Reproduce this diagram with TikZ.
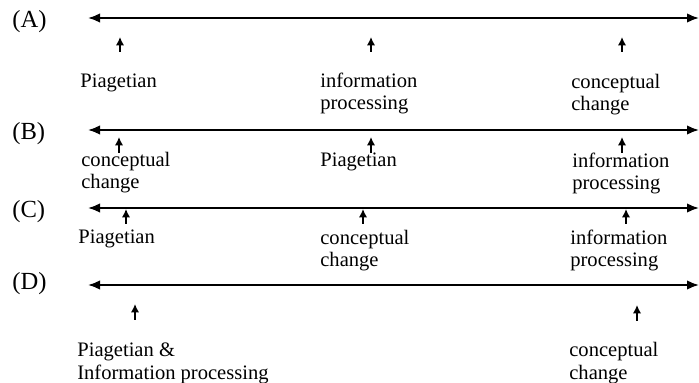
\documentclass[tikz,border=0pt]{standalone}
\usepackage{fontspec}
\setmainfont{Liberation Serif}
\usepackage{tikz}
\usetikzlibrary{arrows.meta}
\usetikzlibrary{positioning}
\tikzset{
    timeline/.style={
        draw,
        {Latex[length=2.4mm, width=1.9mm]}-{Latex[length=2.4mm, width=1.9mm]},
        line width=1.1pt
    },
    pointer/.style={
        draw,
        -{Latex[length=1.7mm, width=1.7mm]},
        line width=0.9pt
    },
    approach/.style={
        anchor=base west,
        align=left,
        inner sep=0pt,
        font=\fontsize{11.7pt}{12.6pt}\selectfont
    },
    rowlabel/.style={
        anchor=base west,
        inner sep=0pt,
        font=\fontsize{14pt}{15pt}\selectfont
    }
}

\begin{document}
\begin{tikzpicture}
    \useasboundingbox (0,0) rectangle (13.98,-7.66);

    % row (A)
    \node[rowlabel] (labA) at (0.24,-0.56) {(A)};
    \coordinate (A0) at (1.76,-0.36);
    \coordinate (A1) at (13.98,-0.36);
    \draw[timeline] (A0) -- (A1);
    \node[approach] (pia) at (1.6,-1.76) {Piagetian};
    \node[approach] (ipa) at (6.4,-2.2) {information\\processing};
    \node[approach] (cca) at (11.42,-2.22) {conceptual\\change};
    \coordinate (pA1) at (2.4,-1.04);  \coordinate (tA1) at (2.4,-0.74);
    \coordinate (pA2) at (7.42,-1.04); \coordinate (tA2) at (7.42,-0.74);
    \coordinate (pA3) at (12.44,-1.04); \coordinate (tA3) at (12.44,-0.74);
    \draw[pointer] (pA1) -- (tA1);
    \draw[pointer] (pA2) -- (tA2);
    \draw[pointer] (pA3) -- (tA3);

    % row (B)
    \node[rowlabel] (labB) at (0.24,-2.8) {(B)};
    \coordinate (B0) at (1.76,-2.6);
    \coordinate (B1) at (13.98,-2.6);
    \draw[timeline] (B0) -- (B1);
    \node[approach] (ccb) at (1.62,-3.78) {conceptual\\change};
    \node[approach] (pib) at (6.4,-3.34) {Piagetian};
    \node[approach] (ipb) at (11.44,-3.8) {information\\processing};
    \coordinate (pB1) at (2.38,-3.06);  \coordinate (tB1) at (2.38,-2.74);
    \coordinate (pB2) at (7.42,-3.06);  \coordinate (tB2) at (7.42,-2.74);
    \coordinate (pB3) at (12.44,-3.06); \coordinate (tB3) at (12.44,-2.74);
    \draw[pointer] (pB1) -- (tB1);
    \draw[pointer] (pB2) -- (tB2);
    \draw[pointer] (pB3) -- (tB3);

    % row (C)
    \node[rowlabel] (labC) at (0.24,-4.36) {(C)};
    \coordinate (C0) at (1.76,-4.16);
    \coordinate (C1) at (13.98,-4.16);
    \draw[timeline] (C0) -- (C1);
    \node[approach] (pic) at (1.56,-4.88) {Piagetian};
    \node[approach] (ccc) at (6.4,-5.34) {conceptual\\change};
    \node[approach] (ipc) at (11.4,-5.34) {information\\processing};
    \coordinate (pC1) at (2.52,-4.48);  \coordinate (tC1) at (2.52,-4.18);
    \coordinate (pC2) at (7.26,-4.48);  \coordinate (tC2) at (7.26,-4.18);
    \coordinate (pC3) at (12.52,-4.48); \coordinate (tC3) at (12.52,-4.18);
    \draw[pointer] (pC1) -- (tC1);
    \draw[pointer] (pC2) -- (tC2);
    \draw[pointer] (pC3) -- (tC3);

    % row (D)
    \node[rowlabel] (labD) at (0.24,-5.8) {(D)};
    \coordinate (D0) at (1.76,-5.7);
    \coordinate (D1) at (13.98,-5.7);
    \draw[timeline] (D0) -- (D1);
    \node[approach] (pid) at (1.54,-7.58) {Piagetian \&\\Information processing};
    \node[approach] (ccd) at (11.38,-7.58) {conceptual\\change};
    \coordinate (pD1) at (2.7,-6.4);  \coordinate (tD1) at (2.7,-6.08);
    \coordinate (pD2) at (12.74,-6.42); \coordinate (tD2) at (12.74,-6.1);
    \draw[pointer] (pD1) -- (tD1);
    \draw[pointer] (pD2) -- (tD2);
\end{tikzpicture}
\end{document}
